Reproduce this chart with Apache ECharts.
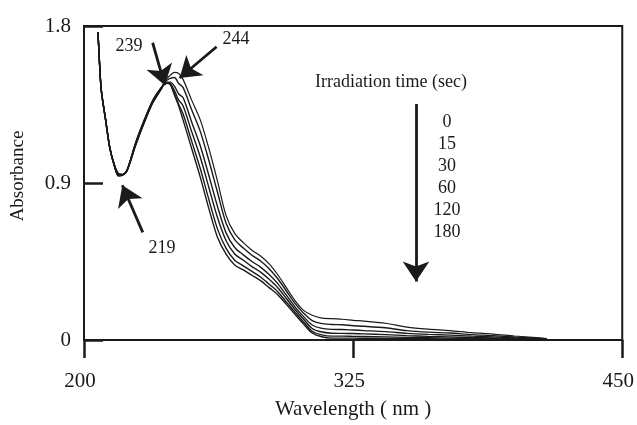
<!DOCTYPE html>
<html>
<head>
<meta charset="utf-8">
<script src="https://cdn.jsdelivr.net/npm/echarts@6/dist/echarts.min.js"></script>
<style>html,body{margin:0;padding:0;background:#fff}#c{width:637px;height:425px}</style>
</head>
<body>
<div id="c"></div>
<script>
const wavelengths = [206.5,207,208,210,212,214,216,218,220,224,228,232,236,238,240,242,244,246,250,254,258,262,266,270,274,278,282,286,290,294,298,302,306,310,315,320,325,330,340,350,360,370,380,390,400,410,415];
const abs0   = [1.766,1.640,1.440,1.270,1.105,1.010,0.955,0.950,0.970,1.115,1.245,1.360,1.440,1.494,1.517,1.534,1.528,1.494,1.375,1.262,1.098,0.911,0.713,0.611,0.558,0.515,0.481,0.436,0.374,0.300,0.226,0.170,0.142,0.127,0.122,0.119,0.113,0.108,0.096,0.074,0.062,0.054,0.042,0.034,0.023,0.014,0.008];
const abs15  = [1.766,1.639,1.438,1.268,1.104,1.008,0.952,0.949,0.971,1.118,1.248,1.363,1.442,1.485,1.500,1.505,1.470,1.448,1.320,1.196,1.029,0.847,0.669,0.575,0.527,0.486,0.453,0.409,0.351,0.281,0.210,0.154,0.111,0.095,0.089,0.087,0.082,0.079,0.070,0.054,0.045,0.040,0.031,0.025,0.017,0.010,0.006];
const abs30  = [1.766,1.638,1.436,1.266,1.102,1.006,0.948,0.948,0.972,1.123,1.253,1.367,1.444,1.478,1.478,1.455,1.410,1.390,1.250,1.114,0.943,0.766,0.614,0.530,0.488,0.450,0.418,0.375,0.323,0.257,0.190,0.134,0.086,0.068,0.061,0.060,0.057,0.054,0.048,0.038,0.032,0.028,0.022,0.018,0.012,0.007,0.004];
const abs60  = [1.766,1.637,1.435,1.265,1.100,1.005,0.945,0.947,0.973,1.126,1.256,1.370,1.446,1.474,1.470,1.430,1.375,1.343,1.195,1.049,0.874,0.702,0.569,0.493,0.457,0.421,0.389,0.348,0.300,0.238,0.175,0.119,0.066,0.047,0.039,0.038,0.037,0.035,0.031,0.025,0.021,0.018,0.014,0.012,0.008,0.005,0.003];
const abs120 = [1.766,1.637,1.433,1.263,1.099,1.003,0.942,0.946,0.973,1.129,1.259,1.373,1.448,1.473,1.467,1.412,1.350,1.297,1.140,0.983,0.805,0.637,0.525,0.457,0.425,0.393,0.361,0.320,0.277,0.218,0.159,0.103,0.050,0.031,0.022,0.022,0.021,0.020,0.018,0.015,0.013,0.011,0.009,0.007,0.005,0.003,0.002];
const abs180 = [1.766,1.636,1.432,1.262,1.098,1.002,0.940,0.945,0.974,1.132,1.262,1.375,1.449,1.472,1.466,1.404,1.342,1.262,1.098,0.934,0.753,0.589,0.492,0.430,0.402,0.371,0.340,0.300,0.260,0.204,0.147,0.091,0.040,0.020,0.011,0.011,0.011,0.010,0.009,0.008,0.007,0.006,0.005,0.004,0.003,0.002,0.001];
const times = ['0','15','30','60','120','180'];
const xTicks = [200,325,450];
const yTicks = [0,0.9,1.8];
const peakLabels = ['239','244','219'];
const legendTitle = 'Irradiation time (sec)';

const allSeries = [abs0,abs15,abs30,abs60,abs120,abs180];
const serif = '"Liberation Serif","Times New Roman",serif';
const ink = '#1a1a1a';

const chart = echarts.init(document.getElementById('c'), null, {renderer:'canvas'});

const series = allSeries.map((vals,i)=>({
  name: times[i], type:'line', showSymbol:false, smooth:0.3,
  data: wavelengths.map((w,j)=>[w, vals[j]]),
  lineStyle:{color:ink, width: i===0 ? 1.2 : 1.4},
  z: 3, silent:true
}));

series[0].markLine = {
  silent:true, symbol:['none','arrow'], symbolSize:[20,20],
  label:{show:false},
  lineStyle:{color:ink, width:2.8, type:'solid'},
  data:[
    [{coord:[231.9,1.704]},{coord:[237.5,1.460]}],
    [{coord:[261.6,1.681]},{coord:[244.4,1.502]}],
    [{coord:[227.3,0.617]},{coord:[217.8,0.887]}],
    [{coord:[354.2,1.353]},{coord:[354.2,0.335]}]
  ]
};

const graphics = [];
function txt(t,x,y,size,rot){
  const g = {type:'text', x:x, y:y, style:{text:t, fill:ink, font: size+'px '+serif, align:'center', verticalAlign:'middle', textAlign:'center', textVerticalAlign:'middle'}, z:10, silent:true};
  if(rot) g.rotation = rot;
  graphics.push(g);
}
txt(peakLabels[0],129,46,18);
txt(peakLabels[1],236,39,18);
txt(peakLabels[2],162,248,18);
txt(legendTitle,391,82,18);
times.forEach((t,i)=>txt(t,447,122+i*22,18));
txt('Absorbance',18,176,19,Math.PI/2);

chart.setOption({
  animation:false,
  backgroundColor:'#fff',
  grid:{left:84, right:13, top:26, bottom:81, show:true, borderColor:ink, borderWidth:2, backgroundColor:'transparent'},
  xAxis:{
    type:'value', min:200, max:450,
    name:'Wavelength ( nm )', nameLocation:'middle', nameGap:59,
    nameTextStyle:{fontFamily:serif, fontSize:21, color:ink},
    axisLine:{show:true, lineStyle:{color:ink, width:2}},
    axisTick:{show:true, inside:false, length:18, lineStyle:{color:ink, width:2.5}, customValues:xTicks},
    axisLabel:{show:true, margin:31, fontFamily:serif, fontSize:21, color:ink, customValues:xTicks, padding:[0,8,0,0], formatter:v=>String(v)},
    splitLine:{show:false}
  },
  yAxis:{
    type:'value', min:0, max:1.8,
    axisLine:{show:true, lineStyle:{color:ink, width:2}},
    axisTick:{show:true, inside:true, length:19, lineStyle:{color:ink, width:2.5}, customValues:yTicks},
    axisLabel:{show:true, margin:13, fontFamily:serif, fontSize:21, color:ink, customValues:yTicks, formatter:v=>String(v)},
    splitLine:{show:false}
  },
  series: series,
  graphic: graphics
});
</script>
</body>
</html>
